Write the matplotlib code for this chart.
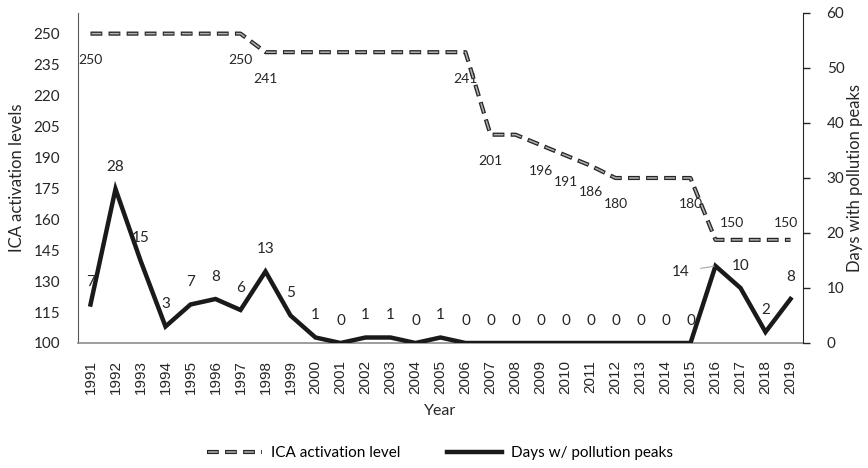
import matplotlib
matplotlib.use("Agg")
import matplotlib.pyplot as plt
from matplotlib.lines import Line2D
from matplotlib.legend_handler import HandlerTuple

plt.rcParams['lines.scale_dashes'] = False
plt.rcParams['font.family'] = ['Lato', 'DejaVu Sans']

years = [1991, 1992, 1993, 1994, 1995, 1996, 1997, 1998, 1999, 2000,
         2001, 2002, 2003, 2004, 2005, 2006, 2007, 2008, 2009, 2010,
         2011, 2012, 2013, 2014, 2015, 2016, 2017, 2018, 2019]
ica_level = [250, 250, 250, 250, 250, 250, 250, 241, 241, 241,
             241, 241, 241, 241, 241, 241, 201, 201, 196, 191,
             186, 180, 180, 180, 180, 150, 150, 150, 150]
pollution_days = [7, 28, 15, 3, 7, 8, 6, 13, 5, 1,
                  0, 1, 1, 0, 1, 0, 0, 0, 0, 0,
                  0, 0, 0, 0, 0, 14, 10, 2, 8]

# which ICA points carry a visible label in the original
ica_labeled = [1991, 1997, 1998, 2006, 2007, 2009, 2010, 2011, 2012, 2015, 2016, 2019]

fig = plt.figure(figsize=(8.68, 4.68), dpi=100)
ax = fig.add_axes([78 / 868, 125 / 468, 725 / 868, 330 / 468])
ax2 = ax.twinx()

# ICA line: "double" dashed look = dark dash with a light core
outer_ls = (0, (8.5, 4.5))
inner_ls = (12.2, (7.0, 6.0))
ax.plot(years, ica_level, color='#262626', lw=3.0, linestyle=outer_ls, zorder=3)
ax.plot(years, ica_level, color='#b3b3b3', lw=1.1, linestyle=inner_ls, zorder=4)

ax2.plot(years, pollution_days, color='#1a1a1a', lw=3.2, solid_joinstyle='miter', zorder=3)

ax.set_xlim(1990.5, 2019.5)
ax.set_ylim(100, 260)
ax.set_yticks(range(100, 251, 15))
ax2.set_ylim(0, 60)
ax2.set_yticks(range(0, 61, 10))
ax.set_xticks(years)
ax.set_xticklabels([str(y) for y in years], rotation=90, family='Liberation Sans',
                   fontsize=11, color='#262626')

ax.tick_params(axis='x', length=0, pad=12)
ax.tick_params(axis='y', length=0, pad=13, labelsize=11, colors='#262626')
ax2.tick_params(axis='y', length=5, width=1, pad=12, labelsize=11, colors='#262626',
                direction='out')

for a in (ax, ax2):
    a.spines['top'].set_visible(False)
ax2.spines['left'].set_visible(False)
ax2.spines['bottom'].set_visible(False)
ax.spines['left'].set_color('#595959')
ax.spines['bottom'].set_color('#8c8c8c')
ax.spines['bottom'].set_linewidth(1.2)
ax2.spines['right'].set_color('#262626')
ax.spines['right'].set_visible(False)

# data labels
for x, v in zip(years, ica_level):
    if x not in ica_labeled:
        continue
    if x == 2016:
        off = (12, 12)
    elif x == 2019:
        off = (-3, 12)
    else:
        off = (0, -19)
    ax.annotate(str(v), (x, v), xytext=off, textcoords='offset points',
                ha='center', va='center', fontsize=10, color='#262626', zorder=2)

for x, v in zip(years, pollution_days):
    if x == 2016:
        ax2.annotate(str(v), (x, v), xytext=(-25, -4), textcoords='offset points',
                     ha='center', va='center', fontsize=11, color='#262626',
                     arrowprops=dict(arrowstyle='-', color='#a6a6a6', lw=0.8,
                                     shrinkA=6, shrinkB=1))
    else:
        ax2.annotate(str(v), (x, v), xytext=(0, 16), textcoords='offset points',
                     ha='center', va='center', fontsize=11, color='#262626')

fig.text(440 / 868, 1 - 411 / 468, 'Year', ha='center', va='center', fontsize=11.5,
         color='#262626')
fig.text(17 / 868, 1 - 178 / 468, 'ICA activation levels', rotation=90, ha='center',
         va='center', fontsize=12, color='#262626')
fig.text(855 / 868, 1 - 178 / 468, 'Days with pollution peaks', rotation=90, ha='center',
         va='center', fontsize=12, color='#262626')

h_outer = Line2D([], [], color='#262626', lw=3.0, linestyle=(0, (8.5, 4.5)))
h_inner = Line2D([], [], color='#b3b3b3', lw=1.1, linestyle=(12.2, (7.0, 6.0)))
h_days = Line2D([], [], color='#1a1a1a', lw=3.2)
fig.legend([(h_outer, h_inner), h_days], ['ICA activation level', 'Days w/ pollution peaks'],
           handler_map={tuple: HandlerTuple(ndivide=1, pad=0)},
           loc='center', bbox_to_anchor=(440 / 868, 1 - 453 / 468), ncol=2, frameon=False,
           fontsize=11, handlelength=3.6, columnspacing=3.0, handletextpad=0.6)

fig.savefig('out.png', dpi=100)
